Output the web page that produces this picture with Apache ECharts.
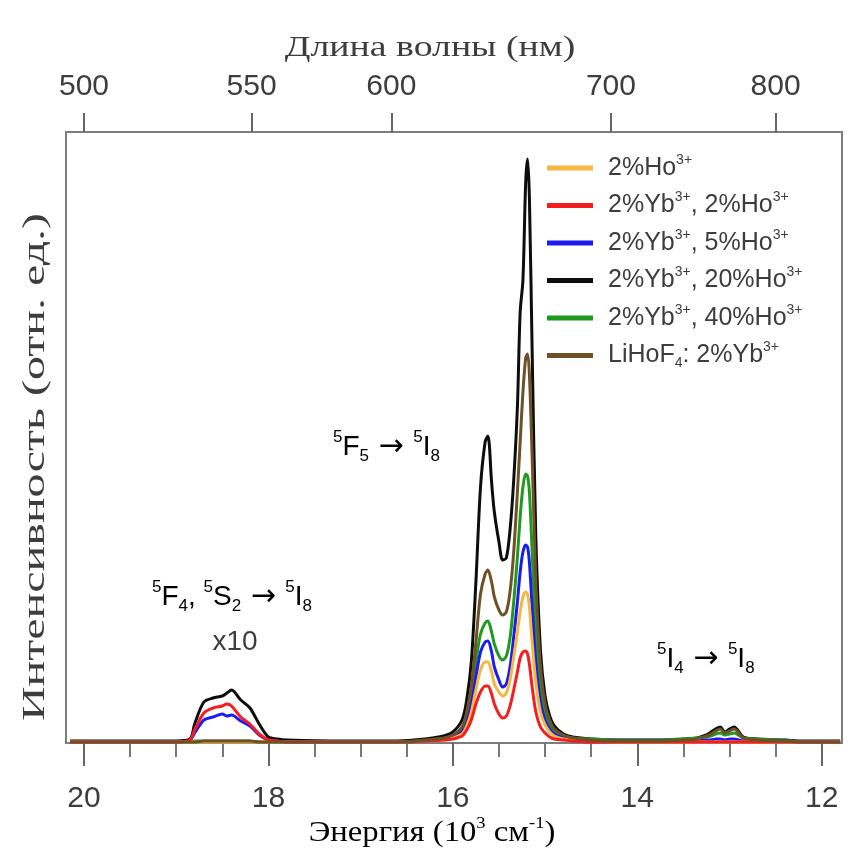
<!DOCTYPE html>
<html>
<head>
<meta charset="utf-8">
<script src="https://cdn.jsdelivr.net/npm/echarts@6/dist/echarts.min.js"></script>
<style>
  html, body { margin: 0; padding: 0; background: #fff; }
  #chart { width: 854px; height: 861px; }
</style>
</head>
<body>
<div id="chart"></div>
<script>
// energy, 10^3 cm-1 (shared x for every spectrum)
var energy = [20.15, 19.6, 19.0, 18.85, 18.8, 18.7, 18.6, 18.5, 18.45, 18.4,
  18.3, 18.2, 18.1, 18.0, 17.9, 17.8, 17.2, 16.6, 16.3, 16.1,
  16.0, 15.9, 15.85, 15.8, 15.75, 15.7, 15.65, 15.62, 15.58, 15.55,
  15.5, 15.46, 15.42, 15.38, 15.34, 15.3, 15.27, 15.24, 15.21, 15.19,
  15.17, 15.14, 15.1, 15.05, 15.0, 14.95, 14.9, 14.8, 14.7, 14.5,
  14.2, 13.8, 13.5, 13.35, 13.25, 13.2, 13.15, 13.1, 13.05, 13.0,
  12.95, 12.85, 12.7, 12.4, 12.2, 11.8];

var ho2 = [0, 0, 0, 0, 0, 0, 0, 0, 0, 0,
  0, 0, 0, 0, 0, 0, 0, 0, 1, 2,
  4, 8, 16, 30, 52, 72, 80, 80, 70, 58,
  50, 46, 49, 62, 85, 110, 130, 145, 150, 148,
  135, 100, 60, 30, 17, 10, 6, 3, 2, 1,
  0, 0, 0, 0, 0, 0, 0, 0, 0, 0,
  0, 0, 0, 0, 0, 0];
var yb2ho2 = [0, 0, 0, 2, 12, 29, 34, 36, 38, 36,
  25, 18, 8, 2, 1, 0, 0, 0, 1, 2,
  3, 6, 12, 22, 38, 50, 56, 56, 48, 38,
  28, 24, 26, 36, 52, 70, 84, 90, 91, 88,
  78, 55, 30, 15, 9, 5, 3, 2, 1, 0,
  0, 0, 0, 0, 0, 0, 0, 0, 0, 0,
  0, 0, 0, 0, 0, 0];
var yb2ho5 = [0, 0, 0, 2, 9, 22, 25, 28, 26, 27,
  21, 16, 7, 2, 1, 0, 0, 0, 1, 3,
  5, 10, 20, 38, 65, 90, 100, 101, 90, 75,
  62, 55, 58, 75, 105, 140, 170, 190, 197, 195,
  180, 135, 80, 40, 22, 13, 8, 4, 2, 1,
  1, 1, 1, 1, 2, 2, 3, 3, 2, 3,
  3, 1, 1, 1, 0, 0];
var yb2ho20 = [1, 1, 1, 3, 18, 40, 44, 46, 49, 52,
  42, 34, 18, 5, 3, 2, 1, 1, 3, 6,
  10, 22, 42, 80, 160, 255, 300, 306, 260, 230,
  200, 182, 184, 212, 262, 335, 430, 462, 560, 583,
  545, 390, 205, 92, 46, 26, 16, 8, 5, 3,
  2, 2, 3, 4, 7, 10, 13, 15, 10, 13,
  15, 5, 3, 2, 1, 1];
var yb2ho40 = [0, 0, 0, 0, 1, 1, 1, 1, 1, 1,
  1, 1, 0, 0, 0, 0, 0, 0, 1, 3,
  6, 12, 25, 45, 80, 108, 119, 121, 110, 98,
  86, 82, 86, 104, 140, 185, 225, 255, 268, 266,
  250, 190, 110, 55, 30, 18, 11, 6, 4, 3,
  2, 2, 3, 4, 5, 6, 8, 9, 7, 8,
  9, 4, 3, 2, 0, 0];
var lihof4 = [0, 0, 0, 0, 0, 1, 1, 1, 1, 1,
  1, 1, 0, 0, 0, 0, 0, 0, 2, 4,
  7, 15, 30, 55, 100, 148, 168, 172, 160, 145,
  132, 127, 130, 150, 190, 250, 300, 350, 384, 388,
  368, 285, 160, 75, 38, 22, 13, 7, 4, 2,
  1, 1, 2, 3, 6, 8, 11, 13, 9, 11,
  13, 4, 2, 1, 0, 0];

var energyTicks = [20, 18, 16, 14, 12];
var energyMinorTicks = [19.5, 19, 18.5, 17.5, 17, 16.5, 15.5, 15, 14.5, 13.5, 13, 12.5];
var wavelengthTicks = [500, 550, 600, 700, 800];

var legendNames = ['2%Ho3+', '2%Yb3+, 2%Ho3+', '2%Yb3+, 5%Ho3+', '2%Yb3+, 20%Ho3+', '2%Yb3+, 40%Ho3+', 'LiHoF4: 2%Yb3+'];
var legendLabels = [
  '{t|2%Ho}{s|3+}',
  '{t|2%Yb}{s|3+}{t|, 2%Ho}{s|3+}',
  '{t|2%Yb}{s|3+}{t|, 5%Ho}{s|3+}',
  '{t|2%Yb}{s|3+}{t|, 20%Ho}{s|3+}',
  '{t|2%Yb}{s|3+}{t|, 40%Ho}{s|3+}',
  '{t|LiHoF}{b|4}{t|: 2%Yb}{s|3+}'
];

var textGray = '#3d3d3d';
var sansFont = 'Liberation Sans, Arial, sans-serif';
var serifFont = 'Liberation Serif, Times New Roman, serif';

function pairs(vals) {
  return energy.map(function (e, i) { return [e, vals[i]]; });
}

function lineSeries(name, vals, color) {
  return {
    name: name, type: 'line', data: pairs(vals),
    showSymbol: false, symbol: 'none', smooth: 0.3,
    lineStyle: { width: 3, color: color }, itemStyle: { color: color },
    xAxisIndex: 0, yAxisIndex: 0
  };
}

var supRich = {
  t: { fontSize: 28, fontFamily: sansFont, color: textGray, lineHeight: 36 },
  a: { fontSize: 30, fontFamily: 'DejaVu Sans', color: textGray, lineHeight: 36 },
  s: { fontSize: 17, fontFamily: sansFont, color: textGray, lineHeight: 17, verticalAlign: 'top' },
  b: { fontSize: 17, fontFamily: sansFont, color: textGray, lineHeight: 17, verticalAlign: 'bottom' }
};

var chart = echarts.init(document.getElementById('chart'));
chart.setOption({
  animation: false,
  backgroundColor: '#fff',
  grid: { left: 66, right: 12, top: 132, bottom: 118, show: true, borderColor: '#7d7d7d', borderWidth: 2 },
  xAxis: [
    {
      type: 'value', position: 'bottom', min: 11.78, max: 20.195, inverse: true,
      axisLine: { show: false }, splitLine: { show: false },
      axisTick: { show: true, customValues: energyTicks, length: 24, lineStyle: { color: '#666', width: 2 } },
      axisLabel: { customValues: energyTicks, margin: 41, fontSize: 30, fontFamily: sansFont, color: textGray }
    },
    {
      type: 'value', position: 'top', min: 11.78, max: 20.195, inverse: true,
      axisLine: { show: false }, splitLine: { show: false },
      axisTick: { show: true, customValues: wavelengthTicks.map(function (nm) { return 10000 / nm; }), length: 19, lineStyle: { color: '#666', width: 2 } },
      axisLabel: {
        customValues: wavelengthTicks.map(function (nm) { return 10000 / nm; }),
        formatter: function (v) { return String(Math.round(10000 / v)); },
        margin: 30, fontSize: 30, fontFamily: sansFont, color: textGray
      }
    },
    {
      type: 'value', position: 'bottom', min: 11.78, max: 20.195, inverse: true,
      axisLine: { show: false }, splitLine: { show: false },
      axisTick: { show: true, customValues: energyMinorTicks, length: 14, lineStyle: { color: '#777', width: 2 } },
      axisLabel: { show: false }
    }
  ],
  yAxis: {
    type: 'value', min: -1, max: 610,
    axisLine: { show: false }, axisTick: { show: false }, axisLabel: { show: false }, splitLine: { show: false }
  },
  legend: {
    orient: 'vertical', left: 547, top: 153, padding: 0,
    itemWidth: 46, itemHeight: 5, itemGap: 10, icon: 'rect',
    data: legendNames,
    formatter: function (name) { return legendLabels[legendNames.indexOf(name)]; },
    textStyle: {
      padding: [0, 0, 0, 10],
      rich: {
        t: { fontSize: 25, fontFamily: sansFont, color: textGray, lineHeight: 30 },
        s: { fontSize: 14, fontFamily: sansFont, color: textGray, lineHeight: 14, verticalAlign: 'top' },
        b: { fontSize: 14, fontFamily: sansFont, color: textGray, lineHeight: 14, verticalAlign: 'bottom' }
      }
    }
  },
  series: [
    lineSeries(legendNames[3], yb2ho20, '#0d0d0d'),
    lineSeries(legendNames[4], yb2ho40, '#1f9a1f'),
    lineSeries(legendNames[2], yb2ho5, '#1c1cf0'),
    lineSeries(legendNames[0], ho2, '#f4b740'),
    lineSeries(legendNames[1], yb2ho2, '#f51d1d'),
    lineSeries(legendNames[5], lihof4, '#6e5127')
  ],
  graphic: [
    { type: 'text', x: 430, y: 48, scaleX: 1.26, style: { text: 'Длина волны (нм)', font: '30px ' + serifFont, fill: textGray, align: 'center', verticalAlign: 'middle' } },
    { type: 'text', x: 432, y: 833, scaleX: 1.09, style: {
      text: '{m|Энергия (10}{p|3}{m| см}{p|-1}{m|)}', align: 'center', verticalAlign: 'middle',
      rich: {
        m: { fontSize: 30, fontFamily: serifFont, color: textGray, lineHeight: 36 },
        p: { fontSize: 17, fontFamily: serifFont, color: textGray, lineHeight: 18, verticalAlign: 'top' }
      } } },
    { type: 'text', x: 36, y: 467, rotation: Math.PI / 2, scaleX: 1.6, scaleY: 1.05, style: { text: 'Интенсивность (отн. ед.)', font: '30px ' + serifFont, fill: textGray, align: 'center', verticalAlign: 'middle' } },
    { type: 'text', x: 333, y: 447, style: { text: '{s|5}{t|F}{b|5}{a| → }{s|5}{t|I}{b|8}', verticalAlign: 'middle', rich: supRich } },
    { type: 'text', x: 152, y: 597, style: { text: '{s|5}{t|F}{b|4}{t|, }{s|5}{t|S}{b|2}{a| → }{s|5}{t|I}{b|8}', verticalAlign: 'middle', rich: supRich } },
    { type: 'text', x: 235, y: 642, style: { text: 'x10', font: '28px ' + sansFont, fill: textGray, align: 'center', verticalAlign: 'middle' } },
    { type: 'text', x: 657, y: 659, style: { text: '{s|5}{t|I}{b|4}{a| → }{s|5}{t|I}{b|8}', verticalAlign: 'middle', rich: supRich } }
  ]
});
</script>
</body>
</html>
